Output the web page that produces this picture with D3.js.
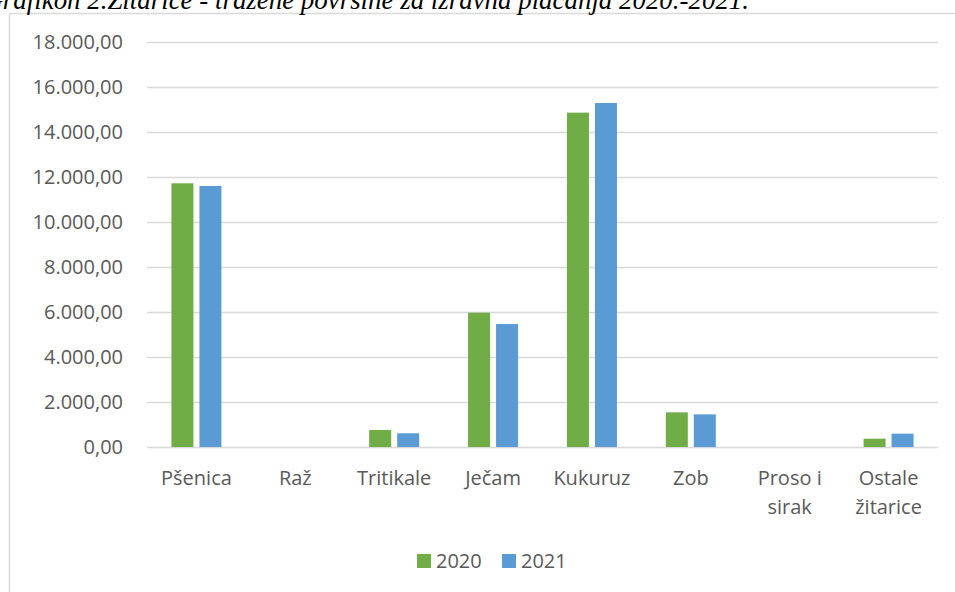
<!DOCTYPE html>
<html>
<head>
<meta charset="utf-8">
<script src="https://cdn.jsdelivr.net/npm/d3@7"></script>
<style>
  body { margin: 0; background: #fff; }
  svg { display: block; }
</style>
</head>
<body>
<svg id="chart"></svg>
<script>
const categories = ["Pšenica", "Raž", "Tritikale", "Ječam", "Kukuruz", "Zob", "Proso i sirak", "Ostale žitarice"];
const labelLines = [["Pšenica"], ["Raž"], ["Tritikale"], ["Ječam"], ["Kukuruz"], ["Zob"], ["Proso i", "sirak"], ["Ostale", "žitarice"]];
const years = ["2020", "2021"];
const values2020 = [11720, 0, 755, 5970, 14860, 1540, 0, 370];
const values2021 = [11600, 0, 610, 5465, 15290, 1450, 0, 593];
const yTicks = [0, 2000, 4000, 6000, 8000, 10000, 12000, 14000, 16000, 18000];
const colors = { "2020": "#70AD47", "2021": "#5B9BD5" };

const width = 955;
const height = 592;
const margin = { left: 147, right: 17, top: 42, bottom: 145 };

const rows = categories.map((c, i) => ({ cat: c, "2020": values2020[i], "2021": values2021[i] }));

const svg = d3.select("#chart")
              .attr("width", width)
              .attr("height", height);

// chart area frame (only the left and top edges show in the picture)
svg.append("rect")
   .attr("x", 9.5)
   .attr("y", 13.5)
   .attr("width", 980)
   .attr("height", 620)
   .attr("fill", "none")
   .attr("stroke", "#d9d9d9")
   .attr("stroke-width", 1.5);

// the caption sits partly above the page edge, as in the source
svg.append("text")
   .attr("x", 749)
   .attr("y", 9)
   .attr("text-anchor", "end")
   .attr("font-family", "'Liberation Serif', 'Times New Roman', serif")
   .attr("font-style", "italic")
   .attr("font-size", 26.9)
   .attr("fill", "#000")
   .text("Grafikon 2.Žitarice - tražene površine za izravna plaćanja 2020.-2021.");

const x0 = d3.scaleBand()
             .domain(categories)
             .range([margin.left, width - margin.right])
             .paddingInner(0)
             .paddingOuter(0);

const x1 = d3.scaleBand()
             .domain(years)
             .range([0, x0.bandwidth()])
             .paddingInner(0.214)
             .paddingOuter(0.873);

const y = d3.scaleLinear()
            .domain([0, 18000])
            .range([height - margin.bottom, margin.top]);

const fmt = v => d3.format(",.2f")(v).replace(/,/g, "X").replace(/\./g, ",").replace(/X/g, ".");

const yAxis = d3.axisLeft(y)
                .tickValues(yTicks)
                .tickSize(-(width - margin.left - margin.right))
                .tickPadding(24)
                .tickFormat(fmt);

const gy = svg.append("g")
              .attr("transform", `translate(${margin.left}, 0)`)
              .call(yAxis);
gy.select(".domain").remove();
gy.selectAll(".tick line")
  .attr("stroke", "#d9d9d9")
  .attr("stroke-width", 1.5);
gy.selectAll(".tick text")
  .attr("fill", "#595959")
  .attr("font-family", "'Open Sans', sans-serif")
  .attr("font-size", 20);

const groups = svg.append("g")
                  .selectAll("g")
                  .data(rows)
                  .enter()
                  .append("g")
                  .attr("transform", d => `translate(${x0(d.cat)}, 0)`);

groups.selectAll("rect")
      .data(d => years.map(k => ({ key: k, value: d[k] })))
      .enter()
      .append("rect")
      .attr("x", d => x1(d.key))
      .attr("y", d => y(d.value))
      .attr("width", x1.bandwidth())
      .attr("height", d => y(0) - y(d.value))
      .attr("fill", d => colors[d.key]);

// category labels, wrapped like the original
const xLabels = svg.append("g")
                   .selectAll("text")
                   .data(categories)
                   .enter()
                   .append("text")
                   .attr("x", d => x0(d) + x0.bandwidth() / 2)
                   .attr("y", 485)
                   .attr("text-anchor", "middle")
                   .attr("fill", "#595959")
                   .attr("font-family", "'Open Sans', sans-serif")
                   .attr("font-size", 20);
xLabels.selectAll("tspan")
       .data((d, i) => labelLines[i])
       .enter()
       .append("tspan")
       .attr("x", function() { return d3.select(this.parentNode).attr("x"); })
       .attr("dy", (d, i) => i === 0 ? 0 : 29)
       .text(d => d);

// legend
const legendX = [417, 502];
const legend = svg.append("g")
                  .selectAll("g")
                  .data(years)
                  .enter()
                  .append("g")
                  .attr("transform", (d, i) => `translate(${legendX[i]}, 554)`);
legend.append("rect")
      .attr("width", 14)
      .attr("height", 14)
      .attr("fill", d => colors[d]);
legend.append("text")
      .attr("x", 19)
      .attr("y", 14)
      .attr("fill", "#595959")
      .attr("font-family", "'Open Sans', sans-serif")
      .attr("font-size", 20)
      .text(d => d);
</script>
</body>
</html>
